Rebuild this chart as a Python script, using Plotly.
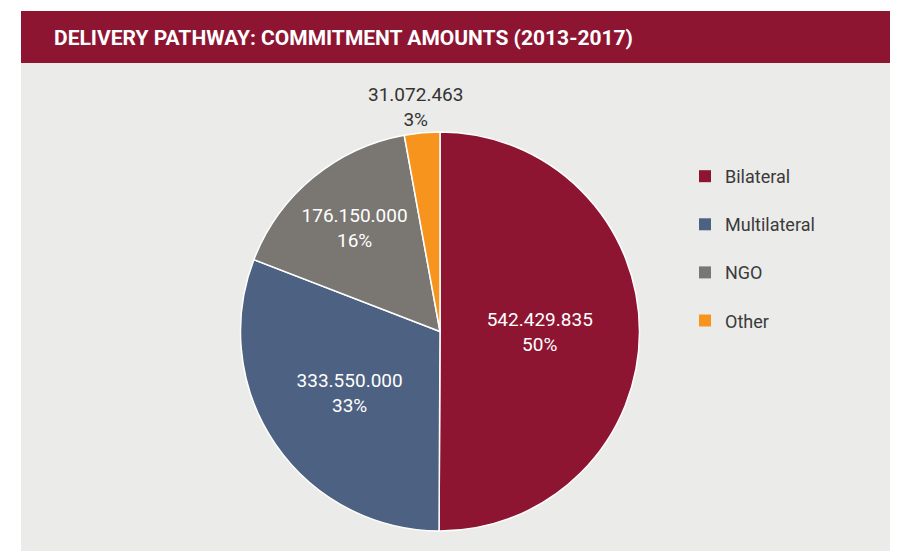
import math
import plotly.graph_objects as go

# ---- data ----
categories = ["Bilateral", "Multilateral", "NGO", "Other"]
amounts = [542429835, 333550000, 176150000, 31072463]
pct_labels = ["50%", "33%", "16%", "3%"]
colors = ["#8d1532", "#4d6182", "#7a7672", "#f7941d"]
title_text = "DELIVERY PATHWAY: COMMITMENT AMOUNTS (2013-2017)"

W, H = 898, 551
OFF = 8  # page body margin offset of the figure in the window

def px_x(x):
    return (x - OFF) / W

def px_y(y):
    return 1 - (y - OFF) / H

def fmt(v):
    return f"{v:,}".replace(",", ".")

slice_text = [fmt(v) + "<br>" + p for v, p in zip(amounts, pct_labels)]
# the last (small) slice gets its label outside, above the pie
inside_text = slice_text[:-1] + [""]

fig = go.Figure()

cx, cy, r = 440, 331.5, 199.5
fig.add_trace(go.Pie(
    labels=categories,
    values=amounts,
    text=inside_text,
    textinfo="text",
    hoverinfo="label+value+percent",
    sort=False,
    direction="clockwise",
    rotation=0,
    marker=dict(colors=colors, line=dict(color="white", width=1.5)),
    textposition="inside",
    insidetextorientation="horizontal",
    textfont=dict(family="Roboto", size=19, color="white"),
    domain=dict(x=[px_x(cx - r), px_x(cx + r)], y=[px_y(cy + r), px_y(cy - r)]),
    showlegend=False,
))

# label of the small slice: placed above its mid-angle
total = sum(amounts)
start_frac = sum(amounts[:-1]) / total
mid_angle = 2 * math.pi * (start_frac + amounts[-1] / total / 2)
lab_x = cx + r * math.sin(mid_angle) - 7
lab_y = cy - r + 1

# legend entries (dummy traces, one group each for spacing)
for cat, col in zip(categories, colors):
    fig.add_trace(go.Scatter(
        x=[None], y=[None], mode="markers", name=cat,
        marker=dict(symbol="square", size=12, color=col),
        legendgroup=cat, showlegend=True, hoverinfo="skip",
    ))

fig.update_layout(
    width=W, height=H,
    margin=dict(l=0, r=0, t=0, b=0),
    paper_bgcolor="white",
    plot_bgcolor="rgba(0,0,0,0)",
    xaxis=dict(visible=False),
    yaxis=dict(visible=False),
    font=dict(family="Roboto", color="#333333"),
    legend=dict(
        x=px_x(685), xanchor="left",
        y=px_y(158), yanchor="top",
        font=dict(family="Roboto", size=18, color="#3a3a3a"),
        tracegroupgap=21.7,
        bgcolor="rgba(0,0,0,0)",
    ),
    shapes=[
        dict(type="rect", xref="paper", yref="paper", layer="below",
             x0=px_x(21), x1=px_x(890), y0=-0.1, y1=px_y(63),
             fillcolor="#ebebe9", line=dict(width=0)),
        dict(type="rect", xref="paper", yref="paper", layer="below",
             x0=px_x(21), x1=px_x(890), y0=px_y(63), y1=px_y(11),
             fillcolor=colors[0], line=dict(width=0)),
    ],
    annotations=[
        dict(text=title_text, xref="paper", yref="paper",
             x=px_x(52), y=px_y(37.5), xanchor="left", yanchor="middle",
             showarrow=False,
             font=dict(family="Roboto", size=21, color="white", weight="bold")),
        dict(text=slice_text[-1], xref="paper", yref="paper",
             x=px_x(lab_x), y=px_y(lab_y), xanchor="center", yanchor="bottom",
             showarrow=False, align="center",
             font=dict(family="Roboto", size=19, color="#333333")),
    ],
)

fig.write_html("out.html")
